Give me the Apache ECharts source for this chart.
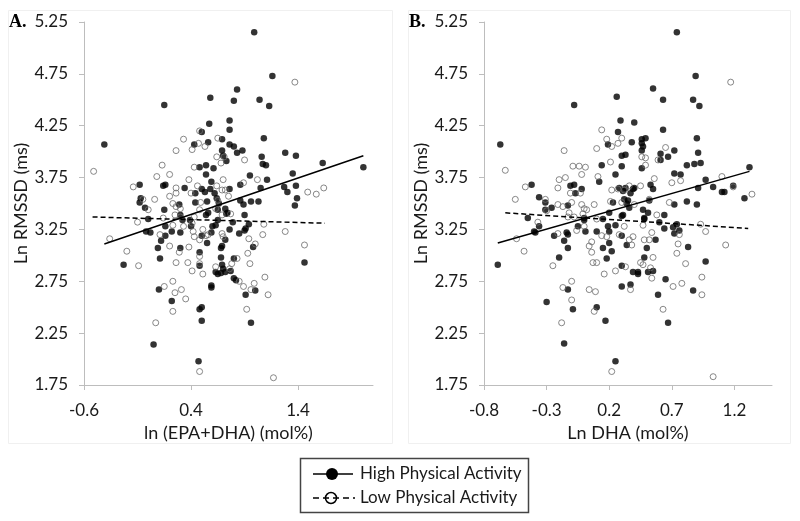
<!DOCTYPE html>
<html>
<head>
<meta charset="utf-8">
<script src="https://cdn.jsdelivr.net/npm/echarts@6/dist/echarts.min.js"></script>
<style>html,body{margin:0;padding:0;background:#fff}#c{width:800px;height:521px}</style>
</head>
<body>
<div id="c"></div>
<script>
// ---- Data ----
const yTicks = [1.75, 2.25, 2.75, 3.25, 3.75, 4.25, 4.75, 5.25];
const xTicksA = [-0.6, 0.4, 1.4];
const xTicksB = [-0.8, -0.3, 0.2, 0.7, 1.2];
const xTitleA = 'ln (EPA+DHA) (mol%)';
const xTitleB = 'Ln DHA (mol%)';
const yTitle = 'Ln RMSSD (ms)';
const legendNames = ['High Physical Activity', 'Low Physical Activity'];

const highA = [
[0.15,4.45],[-0.41,4.07],[0.43,4.07],[-0.08,3.68],[0.14,3.67],[0.16,3.68],[0.48,3.85],[-0.07,3.55],[-0.08,3.51],[-0.03,3.46],[0.15,3.44],[0.29,3.49],[0.34,3.65],[0.44,3.60],[0.44,3.51],[0.30,3.39],
[0.00,3.35],[-0.02,3.23],[0.02,3.22],[0.16,3.28],[0.22,3.23],[0.30,3.22],[0.32,3.34],[0.39,3.34],[0.40,3.28],[0.16,3.19],[0.12,3.14],[0.09,3.07],[0.30,3.07],[0.48,3.03],[0.11,2.97],[-0.23,2.91],[0.48,2.90],[0.10,2.67],[0.22,2.56],[0.48,2.48],[0.05,2.14],[0.47,1.98],
[0.99,5.15],[1.16,4.73],[0.83,4.60],[0.58,4.52],[0.80,4.49],[1.04,4.50],[1.13,4.44],[0.57,4.27],[0.76,4.30],[0.76,4.21],[0.50,4.19],[0.69,4.12],[1.08,4.13],[0.56,4.09],[0.76,4.07],[0.80,4.05],[0.88,4.01],[0.83,3.99],[0.69,4.01],[0.70,3.96],[0.73,3.91],[1.06,3.95],[1.07,3.88],[1.10,3.87],[1.28,3.99],[1.38,3.96],[1.63,3.89],[2.01,3.85],[0.54,3.87],[0.61,3.84],[0.54,3.78],[0.95,3.77],[1.35,3.79],[1.11,3.73],[0.86,3.68],[0.59,3.71],[0.53,3.61],[0.58,3.64],[0.50,3.64],[0.62,3.60],[0.76,3.64],[1.05,3.65],[1.27,3.66],[1.30,3.61],[1.38,3.67],[1.39,3.55],[1.37,3.48],[0.96,3.52],[1.03,3.52],[0.86,3.53],[0.89,3.49],[0.66,3.50],[0.55,3.52],[0.64,3.55],[0.74,3.41],[0.90,3.39],[0.65,3.44],[0.72,3.45],[0.56,3.41],
[0.54,3.39],[0.73,3.40],[0.65,3.34],[0.60,3.28],[0.63,3.29],[0.79,3.32],[0.94,3.30],[0.90,3.24],[0.91,3.26],[0.85,3.21],[0.76,3.25],[0.59,3.22],[0.50,3.19],[0.55,3.12],[0.72,3.15],[0.68,3.07],[0.69,3.09],[0.98,3.08],[0.80,2.97],[0.68,2.98],[0.63,2.84],[0.65,2.82],[0.68,2.83],[0.72,2.84],[0.77,2.85],[0.69,2.91],[0.70,2.87],[0.80,2.78],[0.82,2.76],[0.59,2.71],[0.59,2.69],[1.00,2.66],[0.91,2.62],[1.46,2.93],[0.50,2.50],[0.50,2.37],[0.96,2.35]
];
const lowA = [
[-0.51,3.81],[-0.14,3.66],[0.06,3.54],[0.08,3.76],[0.13,3.87],[0.20,3.78],[0.26,4.01],[0.33,4.12],[0.41,4.02],[0.47,4.08],[0.48,4.20],[0.43,3.85],[0.38,3.73],[0.26,3.65],[0.20,3.57],[0.26,3.60],[0.40,3.60],[0.46,3.67],[-0.05,3.54],[0.00,3.44],[0.23,3.50],[0.26,3.47],[0.30,3.45],[0.14,3.36],
[-0.36,3.16],[-0.20,3.04],[-0.09,2.90],[-0.10,3.32],[0.11,3.20],[0.20,3.09],[0.26,2.93],[0.29,3.03],[0.37,2.93],[0.38,3.08],[0.41,2.85],[0.42,3.23],[0.43,3.18],[0.48,3.15],[0.23,2.75],[0.15,2.70],[0.25,2.64],[0.31,2.67],[0.35,2.58],[0.23,2.46],[0.07,2.35],[0.48,1.88],[0.25,3.39],[0.30,3.37],[0.23,3.29],[0.33,3.28],
[1.37,4.67],[0.53,4.05],[0.65,4.13],[0.64,3.95],[0.68,3.89],[0.71,3.95],[0.90,3.92],[0.89,3.70],[1.02,3.73],[0.70,3.73],[1.49,3.61],[1.57,3.59],[1.64,3.65],[0.64,3.67],[0.69,3.63],[0.72,3.63],[0.75,3.57],[0.65,3.53],[0.49,3.51],[0.69,3.39],[0.77,3.40],[0.63,3.45],[0.48,3.44],
[1.08,3.30],[1.28,3.23],[1.07,3.20],[1.46,3.10],[1.00,3.11],[0.94,3.16],[0.93,3.02],[0.95,2.92],[0.83,2.97],[0.78,2.92],[0.63,2.89],[0.76,2.87],[0.51,2.82],[1.09,2.79],[0.85,2.75],[0.89,2.70],[0.99,2.73],[0.96,2.67],[1.12,2.62],[0.92,2.48],[1.17,1.82],[0.48,2.99],[0.48,2.92],[0.43,3.37],[0.69,3.21],[0.70,3.18],[0.51,3.25],[0.56,3.20],[0.54,3.19],[0.41,3.31]
];
const highB = [
[-0.08,4.45],[-0.67,4.07],[-0.42,3.68],[-0.11,3.67],[-0.08,3.68],[-0.02,3.64],[-0.07,3.60],[-0.36,3.56],[-0.31,3.51],[-0.31,3.44],[-0.26,3.46],[-0.13,3.48],[0.12,3.71],[-0.45,3.36],[0.00,3.36],
[-0.36,3.28],[-0.40,3.23],[-0.39,3.22],[-0.24,3.19],[-0.14,3.22],[-0.13,3.20],[-0.05,3.28],[0.00,3.34],[0.01,3.23],[0.10,3.23],[-0.16,3.14],[-0.13,3.07],[-0.20,2.98],[-0.69,2.91],[-0.13,2.67],[-0.30,2.55],[-0.09,2.48],[0.10,2.50],[-0.16,2.15],
[0.74,5.15],[0.89,4.73],[0.55,4.61],[0.26,4.53],[0.63,4.50],[0.87,4.50],[0.92,4.44],[0.29,4.30],[0.40,4.28],[0.27,4.19],[0.63,4.21],[0.90,4.13],[0.38,4.09],[0.46,4.12],[0.49,4.13],[0.46,4.08],[0.47,4.05],[0.46,4.01],[0.19,4.07],[0.30,3.96],[0.33,3.97],[0.61,3.98],[0.61,3.92],[0.67,3.95],[0.72,4.01],[0.91,3.99],[0.14,3.87],[0.30,3.86],[0.46,3.84],[0.82,3.87],[0.88,3.88],[0.93,3.89],[1.32,3.85],[0.25,3.78],[0.72,3.79],[0.77,3.78],[0.97,3.73],[1.03,3.66],[1.19,3.67],[1.10,3.61],[1.12,3.61],[1.28,3.55],[0.91,3.65],[0.53,3.68],[0.55,3.64],[0.28,3.65],[0.31,3.62],[0.33,3.65],[0.39,3.64],[0.37,3.60],[0.40,3.65],[0.23,3.51],[0.32,3.54],[0.34,3.50],[0.36,3.46],[0.35,3.53],[0.52,3.53],[0.47,3.44],[0.51,3.41],[0.64,3.39],[0.72,3.49],[0.82,3.52],[0.90,3.49],[0.31,3.39],[0.20,3.41],[0.48,3.36],
[0.15,3.35],[0.19,3.28],[0.25,3.29],[0.20,3.23],[0.30,3.38],[0.30,3.19],[0.15,3.07],[0.20,3.12],[0.22,3.04],[0.18,2.97],[0.34,3.10],[0.48,3.35],[0.60,3.32],[0.64,3.26],[0.71,3.27],[0.74,3.30],[0.72,3.21],[0.76,3.24],[0.57,3.15],[0.50,3.07],[0.48,2.98],[0.83,3.08],[0.97,2.94],[0.30,2.90],[0.39,2.84],[0.43,2.84],[0.43,2.82],[0.51,2.84],[0.55,2.85],[0.65,2.77],[0.30,2.70],[0.37,2.72],[0.87,2.66],[0.59,2.62],[0.17,2.37],[0.67,2.35],[0.25,1.98]
];
const lowB = [
[-0.63,3.82],[-0.16,4.01],[0.10,4.03],[-0.09,3.86],[-0.04,3.86],[0.01,3.85],[-0.02,3.78],[-0.15,3.75],[-0.20,3.73],[0.11,3.76],[-0.47,3.66],[-0.21,3.65],[-0.11,3.60],[-0.03,3.60],[-0.55,3.54],[-0.31,3.54],[-0.10,3.51],[-0.21,3.49],[-0.17,3.47],[-0.02,3.49],[0.00,3.45],[0.02,3.44],[-0.12,3.41],[-0.30,3.43],[0.08,3.49],
[-0.54,3.16],[-0.48,3.04],[-0.37,3.32],[-0.21,3.21],[-0.25,2.90],[-0.13,3.37],[-0.08,3.37],[-0.01,3.40],[0.00,3.28],[-0.06,3.24],[0.10,3.35],[0.04,3.09],[0.06,3.03],[0.07,2.93],[0.10,2.93],[-0.17,2.69],[-0.10,2.75],[-0.10,2.57],[0.04,2.67],[0.09,2.65],[0.08,2.46],[-0.18,2.35],
[1.17,4.67],[0.14,4.21],[0.18,4.12],[0.22,4.05],[0.27,4.08],[0.30,4.13],[0.65,4.04],[0.46,3.95],[0.49,3.94],[0.49,3.87],[0.59,3.92],[0.21,3.90],[0.56,3.74],[0.70,3.70],[0.77,3.72],[1.10,3.76],[1.19,3.66],[1.34,3.59],[0.22,3.63],[0.27,3.64],[0.32,3.63],[0.36,3.67],[0.45,3.67],[0.21,3.52],[0.30,3.51],[0.52,3.54],[0.68,3.51],[0.58,3.39],[0.40,3.49],
[0.06,3.13],[0.18,3.18],[0.14,3.19],[0.28,3.20],[0.32,3.28],[0.36,3.15],[0.39,3.18],[0.38,3.10],[0.47,3.29],[0.54,3.22],[0.52,3.15],[0.48,3.15],[0.76,3.20],[0.75,3.11],[0.74,3.02],[0.81,2.92],[0.93,3.30],[0.97,3.23],[1.13,3.10],[0.94,2.79],[0.94,2.62],[0.78,2.73],[0.71,2.70],[0.55,2.98],[0.54,2.78],[0.53,2.88],[0.45,2.93],[0.47,2.91],[0.33,2.89],[0.25,2.85],[0.16,2.82],[0.37,2.67],[0.63,2.48],[0.22,1.88],[1.03,1.83]
];
// Linear trendline endpoints (data units)
const trendHighA = [[-0.41,3.11],[2.01,3.96]];
const trendLowA  = [[-0.52,3.37],[1.65,3.31]];
const trendHighB = [[-0.69,3.12],[1.32,3.81]];
const trendLowB  = [[-0.63,3.41],[1.31,3.26]];

// ---- Chart ----
const FONT = 'Lato, "Open Sans", sans-serif';
const TXT = '#1a1a1a';
const AX = '#bdbdbd';
const chart = echarts.init(document.getElementById('c'), null, {renderer: 'canvas'});

function xAxisCfg(idx, min, max, ticks, title) {
  return {
    type: 'value', gridIndex: idx, min: min, max: max,
    name: title, nameLocation: 'middle', nameGap: 37,
    nameTextStyle: {fontFamily: FONT, fontSize: 18, color: TXT},
    axisLine: {show: true, onZero: false, lineStyle: {color: AX, width: 1}},
    axisTick: {show: true, length: 5, inside: false, customValues: ticks, lineStyle: {color: AX}},
    axisLabel: {customValues: ticks, margin: 17, fontFamily: FONT, fontSize: 17, color: TXT,
      formatter: v => Number(v).toFixed(1)},
    splitLine: {show: false}
  };
}
function yAxisCfg(idx) {
  return {
    type: 'value', gridIndex: idx, min: 1.75, max: 5.25,
    name: yTitle, nameLocation: 'middle', nameGap: 52, nameRotate: 90,
    nameTextStyle: {fontFamily: FONT, fontSize: 18, color: TXT},
    axisLine: {show: true, onZero: false, lineStyle: {color: AX, width: 1}},
    axisTick: {show: true, length: 5, inside: false, customValues: yTicks, lineStyle: {color: AX}},
    axisLabel: {customValues: yTicks, margin: 16, fontFamily: FONT, fontSize: 17, color: TXT,
      formatter: v => Number(v).toFixed(2)},
    splitLine: {show: false}
  };
}
function highSeries(i, data) {
  return {type: 'scatter', xAxisIndex: i, yAxisIndex: i, data: data, symbol: 'circle', symbolSize: 6.5,
    itemStyle: {color: '#000'}, z: 3, silent: true};
}
function lowSeries(i, data) {
  return {type: 'scatter', xAxisIndex: i, yAxisIndex: i, data: data, symbol: 'circle', symbolSize: 6,
    itemStyle: {color: 'rgba(255,255,255,0)', borderColor: '#6a6a6a', borderWidth: 1}, z: 4, silent: true};
}
function trend(i, data, dashed) {
  return {type: 'line', xAxisIndex: i, yAxisIndex: i, data: data, symbol: 'none', z: 5, silent: true,
    lineStyle: {color: '#000', width: 1.5, type: dashed ? [5, 3] : 'solid'}};
}

const option = {
  backgroundColor: '#fff',
  animation: false,
  grid: [
    {left: 84, top: 22, width: 289, height: 363},
    {left: 484, top: 22, width: 288, height: 363}
  ],
  xAxis: [xAxisCfg(0, -0.6, 2.1, xTicksA, xTitleA), xAxisCfg(1, -0.8, 1.5, xTicksB, xTitleB)],
  yAxis: [yAxisCfg(0), yAxisCfg(1)],
  series: [
    highSeries(0, highA), lowSeries(0, lowA), trend(0, trendHighA, false), trend(0, trendLowA, true),
    highSeries(1, highB), lowSeries(1, lowB), trend(1, trendHighB, false), trend(1, trendLowB, true)
  ],
  graphic: [
    {type: 'rect', shape: {x: 8.5, y: 10.5, width: 384, height: 433}, style: {fill: null, stroke: '#f0f0f0', lineWidth: 1}, z: 0},
    {type: 'rect', shape: {x: 408.5, y: 10.5, width: 382, height: 433}, style: {fill: null, stroke: '#f0f0f0', lineWidth: 1}, z: 0},
    {type: 'text', x: 9, y: 22, style: {text: 'A.', font: 'bold 18px "Liberation Serif", serif', fill: '#000', verticalAlign: 'middle'}},
    {type: 'text', x: 409, y: 22, style: {text: 'B.', font: 'bold 18px "Liberation Serif", serif', fill: '#000', verticalAlign: 'middle'}},
    {type: 'rect', shape: {x: 300.5, y: 458.5, width: 228, height: 54}, style: {fill: '#fff', stroke: '#444', lineWidth: 1.5}},
    {type: 'line', shape: {x1: 313, y1: 474, x2: 353, y2: 474}, style: {stroke: '#000', lineWidth: 1.5}},
    {type: 'circle', shape: {cx: 332, cy: 474, r: 6}, style: {fill: '#000'}},
    {type: 'text', x: 360, y: 474, style: {text: legendNames[0], font: '17px ' + FONT, fill: TXT, verticalAlign: 'middle'}},
    {type: 'line', shape: {x1: 313, y1: 498, x2: 355, y2: 498}, style: {stroke: '#000', lineWidth: 1.5, lineDash: [6, 4]}},
    {type: 'circle', shape: {cx: 331, cy: 498, r: 5.5}, style: {fill: 'rgba(255,255,255,0)', stroke: '#000', lineWidth: 1.5}},
    {type: 'text', x: 360, y: 498, style: {text: legendNames[1], font: '17px ' + FONT, fill: TXT, verticalAlign: 'middle'}}
  ]
};
chart.setOption(option);
</script>
</body>
</html>
